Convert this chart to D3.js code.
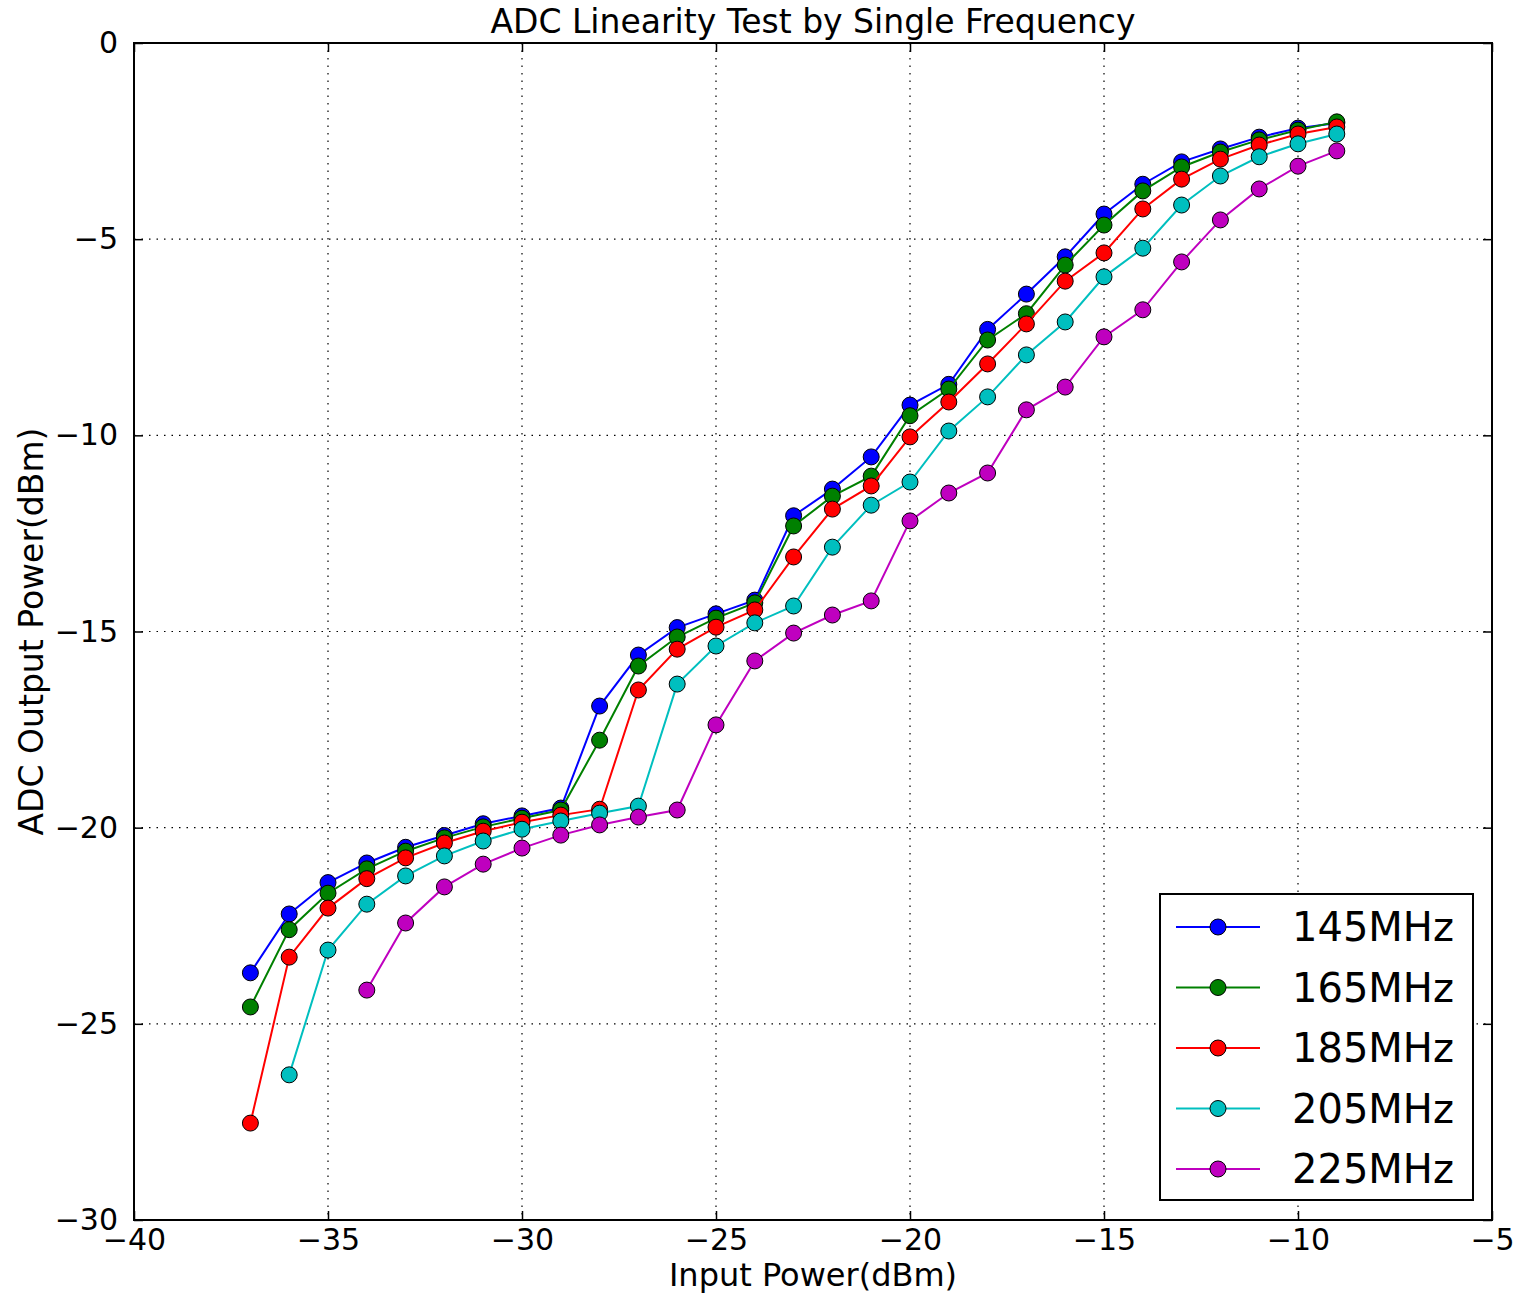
<!DOCTYPE html>
<html><head><meta charset="utf-8">
<script src="https://cdn.jsdelivr.net/npm/d3@7"></script>
<style>body{margin:0;background:#fff}svg{display:block}text{font-family:"DejaVu Sans",sans-serif}</style>
</head><body>
<script>
const inputPower = [-37,-36,-35,-34,-33,-32,-31,-30,-29,-28,-27,-26,-25,-24,-23,-22,-21,-20,-19,-18,-17,-16,-15,-14,-13,-12,-11,-10,-9];
const s145 = [-23.7,-22.2,-21.4,-20.9,-20.5,-20.2,-19.9,-19.7,-19.5,-16.9,-15.6,-14.9,-14.55,-14.2,-12.05,-11.37,-10.55,-9.23,-8.7,-7.3,-6.4,-5.45,-4.36,-3.6,-3.03,-2.7,-2.4,-2.17,-2.04];
const s165 = [-24.57,-22.6,-21.67,-21.05,-20.6,-20.26,-19.98,-19.76,-19.55,-17.77,-15.88,-15.14,-14.66,-14.27,-12.31,-11.55,-11.04,-9.5,-8.82,-7.57,-6.9,-5.66,-4.64,-3.77,-3.16,-2.78,-2.47,-2.22,-2.01];
const s185 = [-27.53,-23.3,-22.05,-21.3,-20.77,-20.39,-20.09,-19.86,-19.68,-19.53,-16.49,-15.45,-14.89,-14.45,-13.1,-11.88,-11.29,-10.04,-9.15,-8.18,-7.16,-6.07,-5.35,-4.23,-3.47,-2.96,-2.6,-2.32,-2.14];
const s205 = [null,-26.3,-23.12,-21.95,-21.23,-20.72,-20.34,-20.04,-19.83,-19.63,-19.45,-16.34,-15.37,-14.78,-14.35,-12.85,-11.78,-11.19,-9.89,-9.02,-7.95,-7.11,-5.96,-5.23,-4.13,-3.39,-2.9,-2.57,-2.32];
const s225 = [null,null,null,-24.14,-22.43,-21.51,-20.93,-20.52,-20.19,-19.93,-19.73,-19.55,-17.38,-15.75,-15.04,-14.58,-14.22,-12.18,-11.47,-10.96,-9.35,-8.77,-7.49,-6.8,-5.58,-4.51,-3.72,-3.14,-2.75];
const seriesNames = ["145MHz","165MHz","185MHz","205MHz","225MHz"];
const seriesColors = ["#0000ff","#008000","#ff0000","#00bfbf","#bf00bf"];
const seriesValues = [s145,s165,s185,s205,s225];
const xTicks = [-40,-35,-30,-25,-20,-15,-10,-5];
const yTicks = [0,-5,-10,-15,-20,-25,-30];

const W=1524,H=1296;
const L=134,R=1492,T=43,B=1220;
const svg=d3.select("body").append("svg").attr("width",W).attr("height",H);
const x=d3.scaleLinear().domain([-40,-5]).range([L,R]);
const y=d3.scaleLinear().domain([-30,0]).range([B,T]);
const fmt=d=>String(d).replace("-","\u2212");

// grid
const g=svg.append("g");
g.selectAll(".vg").data(xTicks.slice(1,-1)).join("line")
 .attr("x1",d=>x(d)).attr("x2",d=>x(d)).attr("y1",T).attr("y2",B)
 .attr("stroke","#000").attr("stroke-width",1.2).attr("stroke-dasharray","1.5,6");
g.selectAll(".hg").data(yTicks.slice(1,-1)).join("line")
 .attr("y1",d=>y(d)).attr("y2",d=>y(d)).attr("x1",L).attr("x2",R)
 .attr("stroke","#000").attr("stroke-width",1.2).attr("stroke-dasharray","1.5,6");

// axes with inward ticks
const axB=d3.axisBottom(x).tickValues(xTicks).tickSizeInner(-9).tickSizeOuter(0).tickPadding(9).tickFormat(fmt);
const axT=d3.axisTop(x).tickValues(xTicks).tickSizeInner(-9).tickSizeOuter(0).tickFormat("");
const axL=d3.axisLeft(y).tickValues(yTicks).tickSizeInner(-9).tickSizeOuter(0).tickPadding(16).tickFormat(fmt);
const axR=d3.axisRight(y).tickValues(yTicks).tickSizeInner(-9).tickSizeOuter(0).tickFormat("");
function style(sel){sel.selectAll("path").remove();sel.selectAll("line").attr("stroke","#000").attr("stroke-width",1.5);sel.selectAll("text").attr("font-size",30).attr("fill","#000").attr("font-family","DejaVu Sans");}
svg.append("g").attr("transform",`translate(0,${B})`).call(axB).call(style).selectAll("text").attr("dy","0.71em");
svg.append("g").attr("transform",`translate(0,${T})`).call(axT).call(style);
svg.append("g").attr("transform",`translate(${L},0)`).call(axL).call(style);
svg.append("g").attr("transform",`translate(${R},0)`).call(axR).call(style);

// series
const line=d3.line().defined(d=>d[1]!=null).x(d=>x(d[0])).y(d=>y(d[1]));
seriesValues.forEach((vals,i)=>{
  const pts=inputPower.map((p,j)=>[p,vals[j]]);
  svg.append("path").datum(pts).attr("d",line).attr("fill","none").attr("stroke",seriesColors[i]).attr("stroke-width",2);
  svg.append("g").selectAll("circle").data(pts.filter(d=>d[1]!=null)).join("circle")
    .attr("cx",d=>x(d[0])).attr("cy",d=>y(d[1])).attr("r",8)
    .attr("fill",seriesColors[i]).attr("stroke","#000").attr("stroke-width",1);
});

// frame
svg.append("rect").attr("x",L).attr("y",T).attr("width",R-L).attr("height",B-T).attr("fill","none").attr("stroke","#000").attr("stroke-width",2);

// title and labels
svg.append("text").attr("x",(L+R)/2).attr("y",33).attr("text-anchor","middle").attr("font-size",33).text("ADC Linearity Test by Single Frequency");
svg.append("text").attr("x",(L+R)/2).attr("y",1286).attr("text-anchor","middle").attr("font-size",32).text("Input Power(dBm)");
svg.append("text").attr("transform",`translate(43,${(T+B)/2}) rotate(-90)`).attr("text-anchor","middle").attr("font-size",33).text("ADC Output Power(dBm)");

// legend
const lg=svg.append("g");
lg.append("rect").attr("x",1160).attr("y",894).attr("width",313).attr("height",306).attr("fill","#fff").attr("stroke","#000").attr("stroke-width",2);
seriesNames.forEach((n,i)=>{
  const yy=927+i*60.5;
  lg.append("line").attr("x1",1176).attr("x2",1260).attr("y1",yy).attr("y2",yy).attr("stroke",seriesColors[i]).attr("stroke-width",2);
  lg.append("circle").attr("cx",1218).attr("cy",yy).attr("r",8).attr("fill",seriesColors[i]).attr("stroke","#000").attr("stroke-width",1);
  lg.append("text").attr("x",1292).attr("y",yy).attr("dy","0.36em").attr("font-size",40).text(n);
});
</script>
</body></html>
